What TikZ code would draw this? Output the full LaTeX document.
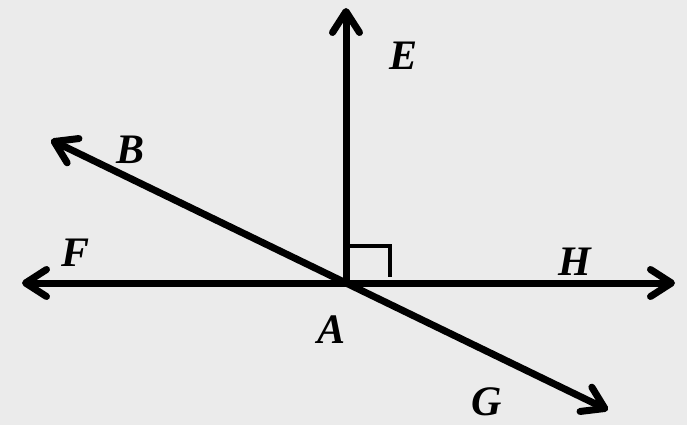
\documentclass[tikz,border=0pt]{standalone}
\usepackage{fontspec}
\setmainfont{Liberation Serif}
\usetikzlibrary{arrows.meta,calc}
\definecolor{paper}{HTML}{EBEBEB}
\tikzset{
  ray/.style={-{Straight Barb[length=21pt,width=27pt,line cap=round,line join=round]},line width=7pt,line cap=round,draw=black},
  rightmark/.style={line width=3.5pt,draw=black},
  labelstyle/.style={font=\fontsize{42}{42}\selectfont\bfseries\itshape,inner sep=0pt}
}
\begin{document}
\begin{tikzpicture}[x=1pt,y=-1pt]
  \fill[paper] (0,0) rectangle (687,425);
  \useasboundingbox (0,0) rectangle (687,425);
  % points
  \coordinate (a) at (346,283);
  \coordinate (e) at (346,8);
  \coordinate (f) at (22,283);
  \coordinate (h) at (675,283);
  \coordinate (b) at (51,140);
  \coordinate (g) at (608,410);
  % rays from A
  \draw[ray] (a) -- (e);
  \draw[ray] (a) -- (f);
  \draw[ray] (a) -- (h);
  \draw[ray] (a) -- (b);
  \draw[ray] (a) -- (g);
  % right angle
  \draw[rightmark] ($(a)+(0,-37)$) -| ($(a)+(44,-6)$);
  % labels
  \node[labelstyle] (labE) at (404,56) {E};
  \node[labelstyle] (labB) at (131,150) {B};
  \node[labelstyle] (labF) at (76,253) {F};
  \node[labelstyle] (labH) at (575,262) {H};
  \node[labelstyle] (labA) at (332,330) {A};
  \node[labelstyle] (labG) at (487,402) {G};
\end{tikzpicture}
\end{document}
